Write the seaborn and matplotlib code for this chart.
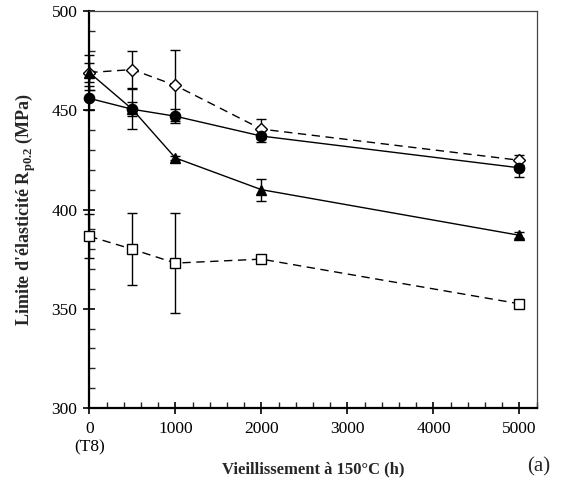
import numpy as np
import pandas as pd
import matplotlib
matplotlib.use("Agg")
import matplotlib.pyplot as plt
from matplotlib.ticker import MultipleLocator
import seaborn as sns

# Ageing time at 150 °C (h)
hours = [0, 500, 1000, 2000, 5000]

# Yield strength Rp0.2 (MPa) and standard deviations for each alloy state
circle_vals = [456, 450.5, 447, 437, 421]
circle_err = [6, 3.5, 3.5, 3, 4.5]

triangle_vals = [469, 450.5, 426, 410, 387]
triangle_err = [9, 10, 1, 5.5, 1.5]

diamond_vals = [469, 470.5, 462.5, 440.5, 424.8]
diamond_err = [5, 9.5, 18, 5, 2.5]

square_vals = [386.5, 380, 373, 375, 352.5]
square_err = [11, 18, 25, 0, 0]

x_ticks = [0, 1000, 2000, 3000, 4000, 5000]
x_ticklabels = ["0\n(T8)", "1000", "2000", "3000", "4000", "5000"]
y_ticks = [300, 350, 400, 450, 500]

sns.set_style("ticks")
plt.rcParams["font.family"] = ["Liberation Serif", "DejaVu Serif"]
plt.rcParams["mathtext.fontset"] = "custom"
plt.rcParams["mathtext.rm"] = "Liberation Serif"
plt.rcParams["mathtext.bf"] = "Liberation Serif:bold"

fig = plt.figure(figsize=(5.83, 4.86), dpi=100)
ax = fig.add_axes([89.3 / 583, 1 - 408 / 486, (536.7 - 89.3) / 583, (408 - 11) / 486])

series = [
    ("square", square_vals, square_err, "s", "white", (0, (6, 4)), 7.6),
    ("diamond", diamond_vals, diamond_err, "D", "white", (0, (6, 4)), 6.6),
    ("circle", circle_vals, circle_err, "o", "black", "-", 7.4),
    ("triangle", triangle_vals, triangle_err, "^", "black", "-", 7.6),
]

for name, vals, errs, mk, face, ls, ms in series:
    df = pd.DataFrame({"h": hours, "rp": vals})
    eb = ax.errorbar(df["h"], df["rp"], yerr=errs, fmt="none", ecolor="black",
                     elinewidth=1.0, capsize=3.7, capthick=1.0, zorder=2)
    for part in eb.lines[1] + eb.lines[2]:
        part.set_clip_on(False)
    sns.lineplot(data=df, x="h", y="rp", ax=ax, color="black", linewidth=1.0,
                 linestyle=ls, marker=mk, markersize=ms, markerfacecolor=face,
                 markeredgecolor="black", markeredgewidth=1.0, zorder=3,
                 clip_on=False)

ax.set_xlim(0, 5200)
ax.set_ylim(300, 500)
ax.set_xticks(x_ticks)
ax.set_xticklabels(x_ticklabels)
ax.set_yticks(y_ticks)
ax.xaxis.set_minor_locator(MultipleLocator(200))
ax.yaxis.set_minor_locator(MultipleLocator(10))

ax.tick_params(axis="both", which="major", direction="inout", length=9, width=1.2,
               labelsize=12.5, colors="black")
ax.tick_params(axis="x", which="major", pad=5)
ax.tick_params(axis="y", which="major", pad=4)
ax.tick_params(axis="both", which="minor", direction="in", length=4, width=1.0)
ax.tick_params(top=False, right=False, which="both")

for side in ("left", "bottom"):
    ax.spines[side].set_linewidth(1.6)
    ax.spines[side].set_color("black")
for side in ("top", "right"):
    ax.spines[side].set_linewidth(0.9)
    ax.spines[side].set_color("#444444")
    ax.spines[side].set_visible(True)

ax.set_xlabel("Vieillissement à 150°C (h)", fontsize=12, fontweight="bold", labelpad=4)
ax.set_ylabel(r"Limite d'élasticité R$_{\mathbf{p0.2}}$ (MPa)", fontsize=13,
              fontweight="bold", labelpad=10)
fig.text(527 / 583, 1 - 467 / 486, "(a)", fontsize=15, ha="left", va="center")

fig.savefig("out.png", dpi=100)
